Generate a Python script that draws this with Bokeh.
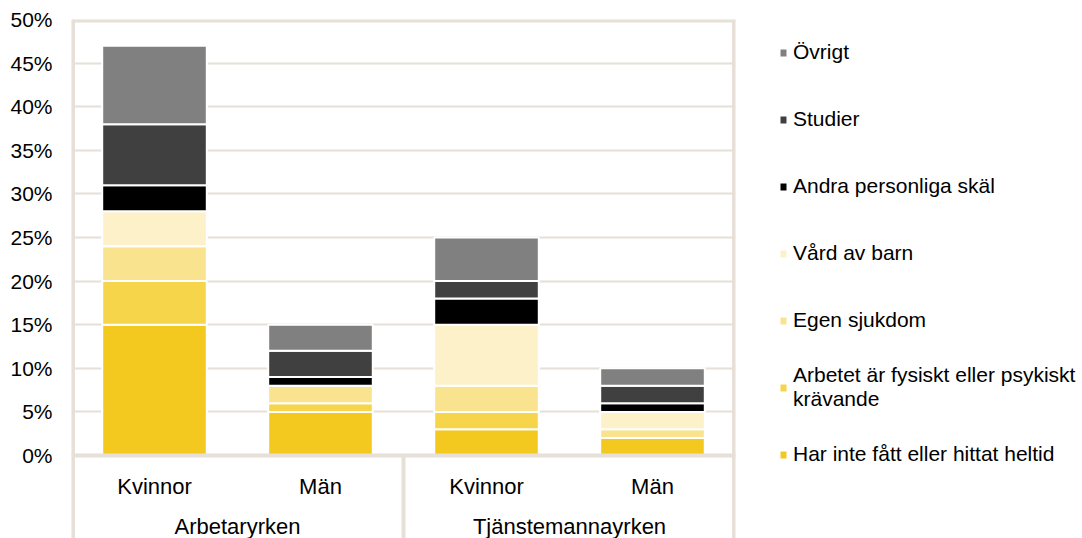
from bokeh.plotting import figure
from bokeh.layouts import row
from bokeh.models import (FactorRange, Range1d, FixedTicker, PrintfTickFormatter,
                          Legend, LegendItem, ColumnDataSource)
from bokeh.embed import file_html
from bokeh.resources import INLINE

# ---- data ----
groups = ["Arbetaryrken", "Tjänstemannayrken"]
sexes = ["Kvinnor", "Män"]
categories = [(g, s) for g in groups for s in sexes]

reasons = [
    "Har inte fått eller hittat heltid",
    "Arbetet är fysiskt eller psykiskt\nkrävande",
    "Egen sjukdom",
    "Vård av barn",
    "Andra personliga skäl",
    "Studier",
    "Övrigt",
]
har_inte = [15, 5, 3, 2]
arbetet = [5, 1, 2, 0]
egen_sjukdom = [4, 2, 3, 1]
vard_av_barn = [4, 0, 7, 2]
andra_skal = [3, 1, 3, 1]
studier = [7, 3, 2, 2]
ovrigt = [9, 3, 5, 2]
series = [har_inte, arbetet, egen_sjukdom, vard_av_barn, andra_skal, studier, ovrigt]

y_ticks = [0, 5, 10, 15, 20, 25, 30, 35, 40, 45, 50]

colors = ["#F4C91F", "#F7D54B", "#F9E38F", "#FCF1C8", "#000000", "#404040", "#808080"]
beige = "#E6E0D8"
FONT = "Liberation Sans"

W, H = 1082, 538
W1 = 739                                   # width of the chart part
FL, FR, FT, F0 = 71, 735, 19, 455          # frame left/right/top, pixel of 0 %
px_per_unit = (F0 - FT) / 50.0
y_start = -(H - F0) / px_per_unit

keys = ["s%d" % i for i in range(len(series))]
data = {"x": categories}
for k, s in zip(keys, series):
    data[k] = s
source = ColumnDataSource(data)

p = figure(
    x_range=FactorRange(*categories, group_padding=0, factor_padding=0, range_padding=0),
    y_range=Range1d(y_start, 50),
    width=W1, height=H,
    output_backend="svg", toolbar_location=None,
    min_border_left=FL, min_border_right=W1 - FR, min_border_top=FT, min_border_bottom=0,
    background_fill_color="white", border_fill_color="white",
)
p.outline_line_color = None

p.xgrid.grid_line_color = None
p.ygrid.grid_line_color = beige
p.ygrid.grid_line_width = 2

renderers = p.vbar_stack(keys, x="x", width=0.63, color=colors, source=source,
                         line_color="white", line_width=2)

# frame lines (left/right/top) and group separators under the axis
n = len(categories)
p.segment(x0=[0, n], y0=[y_start, y_start], x1=[0, n], y1=[50, 50],
          line_color=beige, line_width=7)
p.segment(x0=[0], y0=[50], x1=[n], y1=[50], line_color=beige, line_width=6)
bounds = []
acc = 0
for g in groups[:-1]:
    acc += len(sexes)
    bounds.append(acc)
p.segment(x0=bounds, y0=[0] * len(bounds), x1=bounds, y1=[y_start] * len(bounds),
          line_color=beige, line_width=4)

# y axis
p.yaxis.ticker = FixedTicker(ticks=y_ticks)
p.yaxis.formatter = PrintfTickFormatter(format="%d%%")
p.yaxis.axis_line_color = None
p.yaxis.major_tick_line_color = None
p.yaxis.minor_tick_line_color = None
p.yaxis.major_label_standoff = 13
p.yaxis.major_label_text_font = FONT
p.yaxis.major_label_text_font_size = "21px"
p.yaxis.major_label_text_color = "#000000"

# x axis drawn at 0 %
p.xaxis.fixed_location = 0
p.xaxis.axis_line_color = beige
p.xaxis.axis_line_width = 4
p.xaxis.major_tick_line_color = None
p.xaxis.major_label_standoff = 12
p.xaxis.major_label_text_font = FONT
p.xaxis.major_label_text_font_size = "22px"
p.xaxis.major_label_text_color = "#000000"
p.xaxis.group_text_font = FONT
p.xaxis.group_text_font_size = "22px"
p.xaxis.group_text_color = "#000000"
p.xaxis.group_text_font_style = "normal"
p.xaxis.separator_line_color = None

# ---- legend panel (separate canvas to the right) ----
pl = figure(width=W - W1, height=H, x_range=Range1d(0, 1), y_range=Range1d(0, 1),
            x_axis_location=None, y_axis_location=None,
            output_backend="svg", toolbar_location=None,
            min_border=0, background_fill_color="white", border_fill_color="white")
pl.outline_line_color = None
pl.grid.visible = False
# zero-height proxies (invisible) that only supply the legend swatches
leg_r = [pl.vbar(x=[0], top=[0], bottom=[0], width=0.0, fill_color=c, line_color="white",
                 line_width=2)
         for c in colors]

legend = Legend(
    items=[LegendItem(label=reasons[i], renderers=[leg_r[i]]) for i in reversed(range(len(reasons)))],
    location=(39, 59),
    orientation="vertical",
    border_line_color=None, background_fill_alpha=0,
    glyph_width=10, glyph_height=11, label_standoff=5,
    label_text_font=FONT, label_text_font_size="21px", label_text_color="#000000",
    label_height=50, spacing=17, padding=0, margin=0,
)
pl.add_layout(legend, "center")

layout = row(p, pl, spacing=0)
open("out.html", "w").write(file_html(layout, INLINE))
